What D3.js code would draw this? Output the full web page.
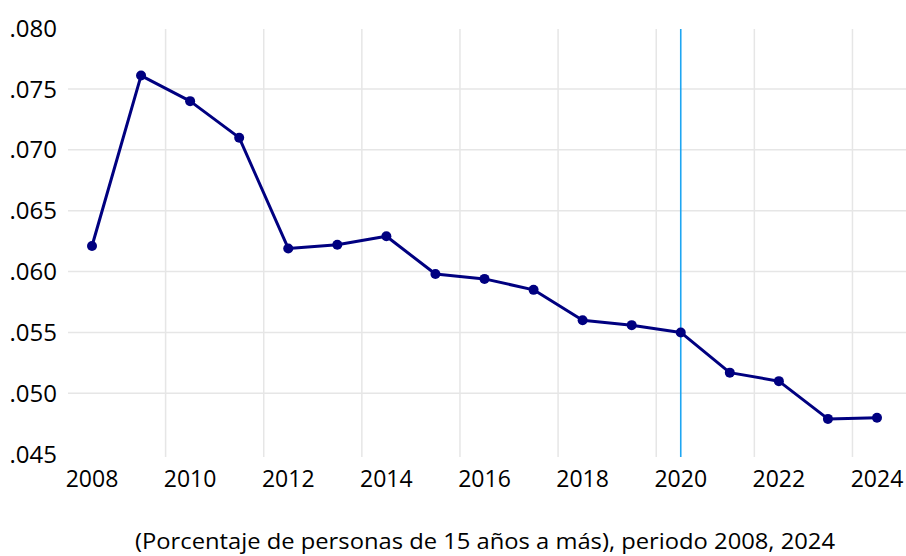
<!DOCTYPE html>
<html>
<head>
<meta charset="utf-8">
<script src="https://cdn.jsdelivr.net/npm/d3@7"></script>
<style>
  body { margin: 0; background: #fff; }
  text { font-family: "Open Sans", sans-serif; fill: #000; }
</style>
</head>
<body>
<div id="chart"></div>
<script>
var years = [2008, 2009, 2010, 2011, 2012, 2013, 2014, 2015, 2016, 2017, 2018, 2019, 2020, 2021, 2022, 2023, 2024];
var values = [0.0621, 0.0761, 0.0740, 0.0710, 0.0619, 0.0622, 0.0629, 0.0598, 0.0594, 0.0585, 0.0560, 0.0556, 0.0550, 0.0517, 0.0510, 0.0479, 0.0480];
var y_ticks = [0.045, 0.050, 0.055, 0.060, 0.065, 0.070, 0.075, 0.080];
var x_ticks = [2008, 2010, 2012, 2014, 2016, 2018, 2020, 2022, 2024];
var marker_year = 2020;
var caption = '(Porcentaje de personas de 15 años a más), periodo 2008, 2024';

var width = 906;
var height = 556;

var svg = d3.select('#chart')
	.append('svg')
	.attr('width', width)
	.attr('height', height);

var x_scale = d3.scaleLinear()
	.domain([2008, 2024])
	.range([92, 877]);
var y_scale = d3.scaleLinear()
	.domain([0.045, 0.080])
	.range([454.2, 28.1]);

var fmt = function (d) { return d3.format('.3f')(d).replace(/^0/, ''); };

// horizontal grid (inner values only)
svg.append('g')
	.selectAll('line')
	.data(y_ticks.slice(1, -1))
	.enter()
	.append('line')
	.attr('x1', 68)
	.attr('x2', width)
	.attr('y1', function (d) { return y_scale(d); })
	.attr('y2', function (d) { return y_scale(d); })
	.attr('stroke', '#e6e6e6')
	.attr('stroke-width', 1.5);

// vertical grid, halfway between labelled years
svg.append('g')
	.selectAll('line')
	.data(d3.range(2009.5, 2024, 2))
	.enter()
	.append('line')
	.attr('x1', function (d) { return x_scale(d); })
	.attr('x2', function (d) { return x_scale(d); })
	.attr('y1', 29)
	.attr('y2', 457)
	.attr('stroke', '#e6e6e6')
	.attr('stroke-width', 1.5);

// marker line
svg.append('line')
	.attr('x1', x_scale(marker_year))
	.attr('x2', x_scale(marker_year))
	.attr('y1', 29)
	.attr('y2', 457)
	.attr('stroke', '#1ea6f2')
	.attr('stroke-width', 1.6);

// y labels
svg.append('g')
	.selectAll('text')
	.data(y_ticks)
	.enter()
	.append('text')
	.text(fmt)
	.attr('x', 57)
	.attr('y', function (d) { return y_scale(d); })
	.attr('dy', '0.36em')
	.attr('text-anchor', 'end')
	.style('font-size', '24px');

// x labels
svg.append('g')
	.selectAll('text')
	.data(x_ticks)
	.enter()
	.append('text')
	.text(function (d) { return d; })
	.attr('x', function (d) { return x_scale(d); })
	.attr('y', 487)
	.attr('text-anchor', 'middle')
	.style('font-size', '23px');

// line
var line = d3.line()
	.x(function (d, i) { return x_scale(years[i]); })
	.y(function (d) { return y_scale(d); });

svg.append('path')
	.datum(values)
	.attr('d', line)
	.attr('fill', 'none')
	.attr('stroke', '#000080')
	.attr('stroke-width', 3)
	.attr('stroke-linejoin', 'round');

svg.selectAll('circle')
	.data(values)
	.enter()
	.append('circle')
	.attr('cx', function (d, i) { return x_scale(years[i]); })
	.attr('cy', function (d) { return y_scale(d); })
	.attr('r', 5)
	.attr('fill', '#000080');

svg.append('text')
	.text(caption)
	.attr('x', 485)
	.attr('y', 549)
	.attr('text-anchor', 'middle')
	.attr('textLength', 700)
	.attr('lengthAdjust', 'spacingAndGlyphs')
	.style('font-size', '21px');
</script>
</body>
</html>
